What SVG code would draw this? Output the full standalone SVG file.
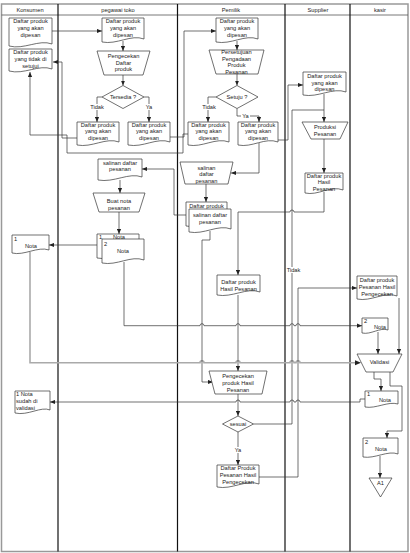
<svg xmlns="http://www.w3.org/2000/svg" width="410" height="553" viewBox="0 0 410 553">
<style>
.t{font-family:"Liberation Sans",Arial,sans-serif;font-size:5.7px;fill:#222;text-anchor:middle}
.l{text-anchor:start}
.s{fill:#fff;stroke:#333;stroke-width:0.7}
.c{fill:none;stroke:#333;stroke-width:0.7}
.a{marker-end:url(#ar)}
.g{fill:none;stroke:#aaa;stroke-width:1.6}
.lane{stroke:#111;stroke-width:1.2}
.frame{fill:none;stroke:#999;stroke-width:1.5}
</style>
<defs>
<marker id="ar" viewBox="0 0 6 6" refX="6" refY="3" markerWidth="5" markerHeight="5" markerUnits="userSpaceOnUse" orient="auto"><path d="M0,0.5 L6,3 L0,5.5 Z" fill="#222"/></marker>
<marker id="ag" viewBox="0 0 6 6" refX="6" refY="3" markerWidth="5" markerHeight="5" markerUnits="userSpaceOnUse" orient="auto"><path d="M0,0.5 L6,3 L0,5.5 Z" fill="#222"/></marker>
</defs>
<rect width="410" height="553" fill="#fff"/>
<g id="lanes">
<rect class="frame" x="1.5" y="4" width="406.5" height="547.5"/>
<line x1="1.5" y1="15" x2="408" y2="15" stroke="#555" stroke-width="0.8"/>
<line class="lane" x1="58" y1="4" x2="58" y2="551.5"/>
<line class="lane" x1="177.5" y1="4" x2="177.5" y2="551.5"/>
<line class="lane" x1="285" y1="4" x2="285" y2="551.5"/>
<line class="lane" x1="350" y1="4" x2="350" y2="551.5"/>
<text class="t" x="30" y="11.5">Konsumen</text>
<text class="t" x="118" y="11.5">pegawai toko</text>
<text class="t" x="231" y="11.5">Pemilik</text>
<text class="t" x="318" y="11.5">Supplier</text>
<text class="t" x="380" y="11.5">kasir</text>
</g>
<g id="connectors">
<path class="c a" d="M52,31 H102"/>
<path class="c a" d="M123,41 V51"/>
<path class="c a" d="M123,75 V85.5"/>
<path class="c a" d="M102,97 H97 V122"/>
<path class="c a" d="M144,97 H149 V122"/>
<path class="c a" d="M170,137 H184 V31 H216"/>
<path class="c a" d="M237,41 V50"/>
<path class="c a" d="M237,74 V85.5"/>
<path class="c a" d="M216,97 H208 V122"/>
<path class="c a" d="M237,108.5 V116 H259 V122"/>
<path class="c a" d="M278,140 H288 V85 H303"/>
<path class="c a" d="M324,94 V122"/>
<path class="c a" d="M324,139 V173"/>
<path class="c a" d="M324,192 V212 H294 a2,2 0 0 0 -4,0 H238 V275"/>
<path class="c a" d="M259,143 V173 H231"/>
<path class="c a" d="M206,184 V202"/>
<path class="c a" d="M186,215 H174 V169 H142"/>
<path class="c a" d="M120,180 V193"/>
<path class="c a" d="M119,212 V234"/>
<path class="c a" d="M97,245 H49"/>
<path class="c a" d="M124,262 V325.7 H200 a2,2 0 0 1 4,0 H236 a2,2 0 0 1 4,0 H290 a2,2 0 0 1 4,0 H296 a2,2 0 0 1 4,0 H362"/>
<path class="g" d="M30,252 V362.7 H200 a2,2 0 0 1 4,0 H236 a2,2 0 0 1 4,0 H290 a2,2 0 0 1 4,0 H296 a2,2 0 0 1 4,0 H356"/>
<path d="M355,360.2 L361,362.7 L355,365.2 Z" fill="#222"/>
<path class="c a" d="M210,231 V240 H202 V382 H213"/>
<path class="c a" d="M238,295 V371"/>
<path class="c a" d="M238,394 V416"/>
<path class="c" d="M253.5,424 H292 V110 H324"/>
<path class="c a" d="M238,432 V465"/>
<path class="c a" d="M259,477 H298 V288 H357"/>
<path class="c a" d="M399,298 V354"/>
<path class="c a" d="M378,332 V354"/>
<path class="c a" d="M374,372 V379 H381 V391"/>
<path class="c a" d="M390,372 V386 H402 V431 H387 V438"/>
<path class="c a" d="M365,399 H360 V402 H300 a2,2 0 0 0 -4,0 H294 a2,2 0 0 0 -4,0 H240 a2,2 0 0 0 -4,0 H50"/>
<path class="c a" d="M380,456 V478"/>
<path class="c a" d="M188,134 H183 V153 H67 V135 H30 V72"/>
<path class="c a" d="M77,138 H62 V62 H53"/>
<rect x="89" y="104" width="16" height="6" fill="#fff"/>
<text class="t" x="97" y="109">Tidak</text>
<rect x="145" y="104" width="8" height="6" fill="#fff"/>
<text class="t" x="149" y="109">Ya</text>
<rect x="201" y="104" width="16" height="6" fill="#fff"/>
<text class="t" x="209" y="109">Tidak</text>
<rect x="241" y="113" width="9" height="6" fill="#fff"/>
<text class="t" x="245.5" y="118">Ya</text>
<rect x="286" y="267" width="15" height="6" fill="#fff"/>
<text class="t" x="293.5" y="272">Tidak</text>
<rect x="234" y="447" width="8" height="6" fill="#fff"/>
<text class="t" x="238" y="452">Ya</text>
</g>
<g id="k1"><path class="s" d="M9,18 H52 V44 C39,39 24,50 9,46 Z"/><text class="t" x="30.5" y="23">Daftar produk</text><text class="t" x="30.5" y="30">yang akan</text><text class="t" x="30.5" y="37">dipesan</text></g>
<g id="k2"><path class="s" d="M9,49 H52 V69 C39,64 24,75 9,71 Z"/><text class="t" x="30.5" y="54">Daftar produk</text><text class="t" x="30.5" y="61">yang tidak di</text><text class="t" x="30.5" y="68">setujui</text></g>
<g id="k3"><path class="s" d="M12,235 H49 V250 C38,246 24,256 12,253 Z"/><text class="t l" x="14" y="241">1</text><text class="t" x="31" y="248">Nota</text></g>
<g id="k4"><path class="s" d="M15,391 H50 V410 C41,406 28,416 15,413 Z"/><text class="t l" x="16" y="396">1 Nota</text><text class="t l" x="16" y="403">sudah di</text><text class="t l" x="16" y="409.5">validasi</text></g>
<g id="p1"><path class="s" d="M102,18 H144 V39 C131,34 117,45 102,42 Z"/><text class="t" x="123" y="23">Daftar produk</text><text class="t" x="123" y="30">yang akan</text><text class="t" x="123" y="37">dipesan</text></g>
<g id="p2"><path class="s" d="M97,51 H150 L143,75 H104 Z"/><text class="t" x="123.5" y="58">Pengecekan</text><text class="t" x="123.5" y="64.5">Daftar</text><text class="t" x="123.5" y="71">produk</text></g>
<g id="p3"><path class="s" d="M123,85.5 L144,97 L123,108.5 L102,97 Z"/><text class="t" x="123" y="99">Tersedia ?</text></g>
<g id="p4"><path class="s" d="M77,122 H119 V142 C106,137 92,148 77,145 Z"/><text class="t" x="98" y="126.5">Daftar produk</text><text class="t" x="98" y="133">yang akan</text><text class="t" x="98" y="139.5">dipesan</text></g>
<g id="p5"><path class="s" d="M128,122 H170 V142 C157,137 143,148 128,145 Z"/><text class="t" x="149" y="126.5">Daftar produk</text><text class="t" x="149" y="133">yang akan</text><text class="t" x="149" y="139.5">dipesan</text></g>
<g id="p6"><path class="s" d="M98,159 H142 V177 C129,172 114,183 98,180 Z"/><text class="t" x="120" y="164.5">salinan daftar</text><text class="t" x="120" y="171">pesanan</text></g>
<g id="p7"><path class="s" d="M93,193 H145 L139,212 H99 Z"/><text class="t" x="119" y="203">Buat nota</text><text class="t" x="119" y="209.5">pesanan</text></g>
<g id="p8"><path class="s" d="M97,234 H139 V255 C126,250 112,261 97,258 Z"/><path class="s" d="M102,239 H144 V260 C131,255 117,266 102,263 Z"/><text class="t l" x="99" y="239">1</text><text class="t" x="119" y="238.5">Nota</text><text class="t l" x="104" y="246">2</text><text class="t" x="123" y="253">Nota</text></g>
<g id="m1"><path class="s" d="M216,18 H258 V39 C245,34 231,45 216,42 Z"/><text class="t" x="237" y="23">Daftar produk</text><text class="t" x="237" y="30">yang akan</text><text class="t" x="237" y="37">dipesan</text></g>
<g id="m2"><path class="s" d="M209,50 H264 L258,74 H216 Z"/><text class="t" x="236.5" y="54">Persetujuan</text><text class="t" x="236.5" y="60.5">Pengadaan</text><text class="t" x="236.5" y="67">Produk</text><text class="t" x="236.5" y="73.5">Pesanan</text></g>
<g id="m3"><path class="s" d="M237,85.5 L258,97 L237,108.5 L216,97 Z"/><text class="t" x="237" y="99">Setuju ?</text></g>
<g id="m4"><path class="s" d="M188,122 H229 V142 C216,137 202,148 188,145 Z"/><text class="t" x="208.5" y="126.5">Daftar produk</text><text class="t" x="208.5" y="133">yang akan</text><text class="t" x="208.5" y="139.5">dipesan</text></g>
<g id="m5"><path class="s" d="M238,122 H278 V142 C265,137 252,148 238,145 Z"/><text class="t" x="258" y="126.5">Daftar produk</text><text class="t" x="258" y="133">yang akan</text><text class="t" x="258" y="139.5">dipesan</text></g>
<g id="m6"><path class="s" d="M180,162 H233 L228,184 H185 Z"/><text class="t" x="206.5" y="169.5">salinan</text><text class="t" x="206.5" y="176">daftar</text><text class="t" x="206.5" y="182.5">pesanan</text></g>
<g id="m7"><path class="s" d="M186,202 H227 V223 C214,218 200,229 186,226 Z"/><path class="s" d="M189,209 H231 V229 C218,224 204,235 189,232 Z"/><text class="t" x="206.5" y="207.5">Daftar produk</text><text class="t" x="210" y="217">salinan daftar</text><text class="t" x="210" y="223.5">pesanan</text></g>
<g id="m8"><path class="s" d="M217,275 H260 V292 C247,287 232,298 217,295 Z"/><text class="t" x="238.5" y="284">Daftar produk</text><text class="t" x="238.5" y="290.5">Hasil Pesanan</text></g>
<g id="m9"><path class="s" d="M209,371 H267 L262,394 H215 Z"/><text class="t" x="238" y="378">Pengecekan</text><text class="t" x="238" y="385">produk Hasil</text><text class="t" x="238" y="391.5">Pesanan</text></g>
<g id="m10"><path class="s" d="M238,416 L253.5,424 L238,432 L222.5,424 Z"/><text class="t" x="238" y="426">sesuai</text></g>
<g id="m11"><path class="s" d="M217,465 H259 V484 C246,479 232,490 217,487 Z"/><text class="t" x="238" y="469.5">Daftar Produk</text><text class="t" x="238" y="477">Pesanan Hasil</text><text class="t" x="238" y="484">Pengecekan</text></g>
<g id="s1"><path class="s" d="M303,72 H346 V92 C333,87 318,98 303,95 Z"/><text class="t" x="324.5" y="78">Daftar produk</text><text class="t" x="324.5" y="84.5">yang akan</text><text class="t" x="324.5" y="91">dipesan</text></g>
<g id="s2"><path class="s" d="M302,122 H348 L340,139 H311 Z"/><text class="t" x="325" y="129">Produksi</text><text class="t" x="325" y="135.5">Pesanan</text></g>
<g id="s3"><path class="s" d="M305,173 H343 V190 C331,185 318,196 305,193 Z"/><text class="t" x="324" y="177.5">Daftar produk</text><text class="t" x="324" y="184">Hasil</text><text class="t" x="324" y="190.5">Pesanan</text></g>
<g id="q1"><path class="s" d="M357,276 H397 V296 C385,291 371,302 357,299 Z"/><text class="t" x="377" y="281.5">Daftar produk</text><text class="t" x="377" y="288.5">Pesanan Hasil</text><text class="t" x="377" y="295.5">Pengecekan</text></g>
<g id="q2"><path class="s" d="M362,318 H388 V330 C380,327 371,335 362,333 Z"/><text class="t l" x="364" y="323">2</text><text class="t" x="380" y="329">Nota</text></g>
<g id="q3"><path class="s" d="M357,354 H402 L393,372 H366 Z"/><text class="t" x="379.5" y="364">Validasi</text></g>
<g id="q4"><path class="s" d="M365,391 H398 V404 C388,401 376,409 365,407 Z"/><text class="t l" x="367" y="396">1</text><text class="t" x="385" y="402">Nota</text></g>
<g id="q5"><path class="s" d="M363,438 H398 V454 C388,450 375,459 363,457 Z"/><text class="t l" x="365" y="444">2</text><text class="t" x="381" y="451">Nota</text></g>
<g id="q6"><path class="s" d="M369,478 H392 L380.5,497 Z"/><text class="t" x="380.5" y="485">A1</text></g>
</svg>
